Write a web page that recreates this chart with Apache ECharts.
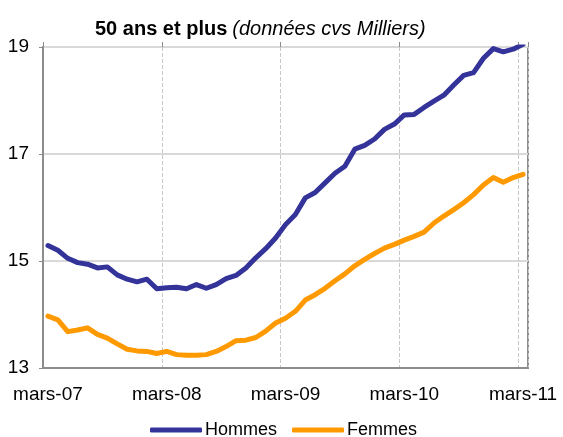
<!DOCTYPE html>
<html lang="fr">
<head>
  <meta charset="UTF-8">
  <title>50 ans et plus</title>
  <script src="https://cdn.jsdelivr.net/npm/echarts@6/dist/echarts.min.js"></script>
  <style>
    html, body { margin: 0; padding: 0; background: #fff; }
    #chart { width: 563px; height: 437px; }
  </style>
</head>
<body>
<div id="chart"></div>
<script>
  // months, mars-07 .. mars-11
  const months = [
    'mars-07', 'avr.-07', 'mai-07', 'juin-07', 'juil.-07', 'août-07', 'sept.-07', 'oct.-07', 'nov.-07', 'déc.-07', 'janv.-08', 'févr.-08',
    'mars-08', 'avr.-08', 'mai-08', 'juin-08', 'juil.-08', 'août-08', 'sept.-08', 'oct.-08', 'nov.-08', 'déc.-08', 'janv.-09', 'févr.-09',
    'mars-09', 'avr.-09', 'mai-09', 'juin-09', 'juil.-09', 'août-09', 'sept.-09', 'oct.-09', 'nov.-09', 'déc.-09', 'janv.-10', 'févr.-10',
    'mars-10', 'avr.-10', 'mai-10', 'juin-10', 'juil.-10', 'août-10', 'sept.-10', 'oct.-10', 'nov.-10', 'déc.-10', 'janv.-11', 'févr.-11',
    'mars-11'
  ];

  const hommes = [
    15.29, 15.20, 15.05, 14.97, 14.94, 14.87, 14.89, 14.74, 14.66, 14.61, 14.66, 14.48,
    14.50, 14.51, 14.48, 14.56, 14.49, 14.56, 14.67, 14.73, 14.87, 15.06, 15.23, 15.43,
    15.68, 15.87, 16.18, 16.28, 16.46, 16.64, 16.77, 17.09, 17.16, 17.28, 17.46, 17.56,
    17.73, 17.74, 17.87, 17.99, 18.10, 18.29, 18.47, 18.52, 18.79, 18.97, 18.91, 18.96,
    19.05
  ];

  const femmes = [
    13.97, 13.90, 13.68, 13.71, 13.75, 13.63, 13.56, 13.45, 13.35, 13.32, 13.31, 13.27,
    13.31, 13.25, 13.24, 13.24, 13.25, 13.31, 13.40, 13.51, 13.52, 13.57, 13.69, 13.84,
    13.93, 14.06, 14.27, 14.37, 14.49, 14.63, 14.76, 14.91, 15.03, 15.14, 15.24, 15.31,
    15.39, 15.46, 15.54, 15.71, 15.84, 15.96, 16.09, 16.24, 16.42, 16.56, 16.47, 16.56,
    16.62
  ];

  const yTicks = [13, 15, 17, 19];

  const chart = echarts.init(document.getElementById('chart'));
  const font = 'Liberation Sans, Arial, sans-serif';

  chart.setOption({
    animation: false,
    textStyle: { fontFamily: font },
    title: {
      text: '{b|50 ans et plus} {i|(données cvs Milliers)}',
      left: 90,
      top: 14,
      textStyle: {
        fontWeight: 'normal',
        rich: {
          b: { fontFamily: font, fontSize: 20, fontWeight: 'bold', color: '#000' },
          i: { fontFamily: font, fontSize: 20, fontWeight: 'normal', fontStyle: 'italic', color: '#000' }
        }
      }
    },
    legend: {
      left: 145,
      top: 416,
      itemWidth: 52,
      itemHeight: 5,
      itemGap: 15,
      icon: 'roundRect',
      textStyle: { fontFamily: font, fontSize: 18, color: '#000', padding: [0, 0, 0, -2] },
      data: ['Hommes', 'Femmes']
    },
    grid: {
      left: 43,
      right: 35,
      top: 47,
      bottom: 69,
      show: true,
      borderColor: '#8c8c8c',
      borderWidth: 2
    },
    xAxis: [
      {
        type: 'category',
        data: months,
        boundaryGap: true,
        axisLine: { show: true, lineStyle: { color: '#8c8c8c', width: 2 } },
        axisTick: { show: false },
        axisLabel: {
          interval: 11,
          margin: 17,
          fontSize: 19,
          color: '#000',
          fontFamily: font
        },
        splitLine: {
          show: true,
          interval: 11,
          lineStyle: { color: '#c8c8c8', type: 'dashed', width: 1 }
        }
      },
      {
        type: 'category',
        position: 'top',
        data: months,
        boundaryGap: true,
        axisLine: { show: false },
        axisTick: { show: true, interval: 11, length: 5, lineStyle: { color: '#8c8c8c', width: 1 } },
        axisLabel: { show: false },
        splitLine: { show: false }
      }
    ],
    yAxis: {
      type: 'value',
      min: yTicks[0],
      max: yTicks[yTicks.length - 1],
      interval: 2,
      axisLine: { show: true, lineStyle: { color: '#8c8c8c', width: 2 } },
      axisTick: { show: true, length: 4, lineStyle: { color: '#8c8c8c', width: 1 } },
      axisLabel: { margin: 14, fontSize: 19, color: '#000', fontFamily: font },
      splitLine: { show: true, lineStyle: { color: '#d9d9d9', width: 2 } }
    },
    series: [
      {
        name: 'Hommes',
        type: 'line',
        data: hommes,
        symbol: 'none',
        color: '#333399',
        lineStyle: { width: 5, color: '#333399', cap: 'round', join: 'round' }
      },
      {
        name: 'Femmes',
        type: 'line',
        data: femmes,
        symbol: 'none',
        color: '#ff9900',
        lineStyle: { width: 5, color: '#ff9900', cap: 'round', join: 'round' }
      }
    ]
  });
</script>
</body>
</html>
